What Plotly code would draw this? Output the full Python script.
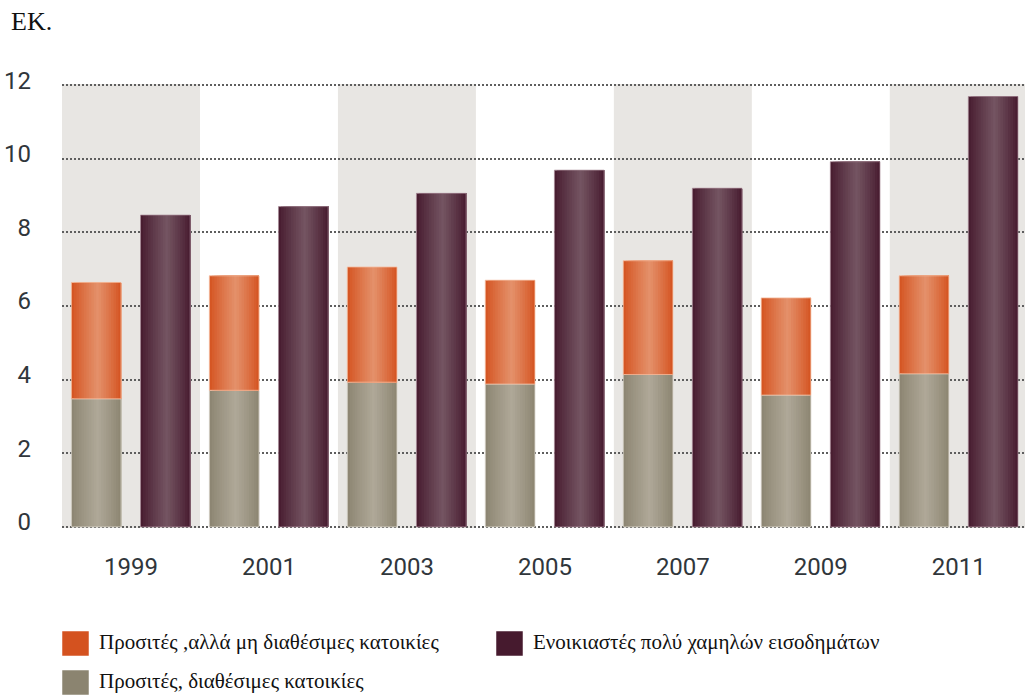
import plotly.graph_objects as go

# Years on the category axis
years = ["1999", "2001", "2003", "2005", "2007", "2009", "2011"]

# Affordable and available dwellings (grey, bottom segment)
affordable_available = [3.48, 3.71, 3.93, 3.88, 4.14, 3.58, 4.16]
# Affordable but not available dwellings (orange, stacked on top)
affordable_unavailable = [3.16, 3.11, 3.13, 2.82, 3.09, 2.64, 2.66]
# Very low income renters (purple)
low_income_renters = [8.47, 8.70, 9.06, 9.69, 9.20, 9.92, 11.69]

y_ticks = [0, 2, 4, 6, 8, 10, 12]

label_unavailable = "Προσιτές ,αλλά μη διαθέσιμες κατοικίες"
label_renters = "Ενοικιαστές πολύ χαμηλών εισοδημάτων"
label_available = "Προσιτές, διαθέσιμες κατοικίες"

ORANGE = ("#d4521f", "#e4916b")
GREY = ("#8b8470", "#afa898")
PURPLE = ("#461a2e", "#745562")

BAR_W = 0.36
LEFT_OFF = -0.432
RIGHT_OFF = 0.069
N_STRIPS = 20


def hex_to_rgb(h):
    h = h.lstrip("#")
    return tuple(int(h[i:i + 2], 16) for i in (0, 2, 4))


def mix(c1, c2, f):
    a, b = hex_to_rgb(c1), hex_to_rgb(c2)
    return "rgb({},{},{})".format(*[round(a[i] + (b[i] - a[i]) * f) for i in range(3)])


def shade_profile(t, peak=0.53):
    # 0 at the edges, 1 at the highlight of the cylinder-like sheen
    if t <= peak:
        u = t / peak
    else:
        u = (1 - t) / (1 - peak)
    return max(0.0, min(1.0, u)) ** 0.9


fig = go.Figure()


def add_shaded_bars(values, base, offset, colors, outline):
    # Each strip runs from its own left edge to the bar's right edge, so the
    # next strip always paints over the previous one and no seams show.
    step = BAR_W / N_STRIPS
    for k in range(N_STRIPS):
        t = (k + 0.5) / N_STRIPS
        fig.add_trace(go.Bar(
            x=years, y=values, base=base,
            offset=offset + k * step, width=BAR_W - k * step,
            marker=dict(color=mix(colors[0], colors[1], shade_profile(t)), line=dict(width=0)),
            showlegend=False, hoverinfo="skip",
        ))
    fig.add_trace(go.Bar(
        x=years, y=values, base=base, offset=offset, width=BAR_W,
        marker=dict(color="rgba(0,0,0,0)", line=dict(width=1, color=outline)),
        showlegend=False, hoverinfo="skip",
    ))


add_shaded_bars(affordable_available, None, LEFT_OFF, GREY, "rgba(215,210,200,0.8)")
add_shaded_bars(affordable_unavailable, affordable_available, LEFT_OFF, ORANGE, "rgba(245,190,160,0.8)")
add_shaded_bars(low_income_renters, None, RIGHT_OFF, PURPLE, "rgba(170,140,152,0.7)")

# Alternating background bands behind every other year
shapes = []
for i in range(0, len(years), 2):
    shapes.append(dict(type="rect", xref="x", yref="paper", x0=i - 0.5, x1=i + 0.5,
                       y0=0, y1=1, fillcolor="#e8e6e3", line=dict(width=0), layer="below"))

# Legend swatches and labels
PLOT_L, PLOT_T, PLOT_B, PLOT_W = 62, 84, 528, 963


def px_x(px):
    return (px - PLOT_L) / PLOT_W


def px_y(py):
    return (PLOT_B - py) / (PLOT_B - PLOT_T)


legend_items = [
    (62, 631, ORANGE[0], label_unavailable),
    (496, 631, PURPLE[0], label_renters),
    (62, 670, GREY[0], label_available),
]
annotations = []
for lx, ly, col, txt in legend_items:
    shapes.append(dict(type="rect", xref="paper", yref="paper",
                       x0=px_x(lx), x1=px_x(lx + 27), y0=px_y(ly + 25), y1=px_y(ly),
                       fillcolor=col, line=dict(width=1, color="rgba(255,255,255,0.5)")))
    annotations.append(dict(xref="paper", yref="paper", x=px_x(lx + 35), y=px_y(ly + 11),
                            xanchor="left", yanchor="middle", showarrow=False, text=txt,
                            font=dict(family="Liberation Serif, Times New Roman, serif",
                                      size=21, color="#111111")))

annotations.append(dict(xref="paper", yref="paper", x=px_x(9), y=px_y(21),
                        xanchor="left", yanchor="middle", showarrow=False, text="ΕΚ.",
                        font=dict(family="Liberation Serif, Times New Roman, serif",
                                  size=26, color="#111111")))

tick_font = dict(family="Roboto, Liberation Sans, sans-serif", size=24, color="#30363b")

fig.update_layout(
    width=1025, height=695,
    margin=dict(l=PLOT_L, r=0, t=PLOT_T, b=695 - PLOT_B),
    paper_bgcolor="white", plot_bgcolor="white",
    barmode="overlay",
    shapes=shapes, annotations=annotations,
    showlegend=False,
    xaxis=dict(type="category", range=[-0.5, 6.48], showgrid=False, zeroline=False,
               showline=False, ticks="", tickfont=tick_font, ticklabelstandoff=22),
    yaxis=dict(range=[-0.03, 12.03], tickvals=y_ticks, showgrid=True, gridcolor="#5e5e5e",
               gridwidth=1.6, griddash="2px,2px", zeroline=False, showline=False,
               ticks="", tickfont=tick_font, ticklabelstandoff=30, ticklabelshift=-5),
)

fig.write_html("out.html")
